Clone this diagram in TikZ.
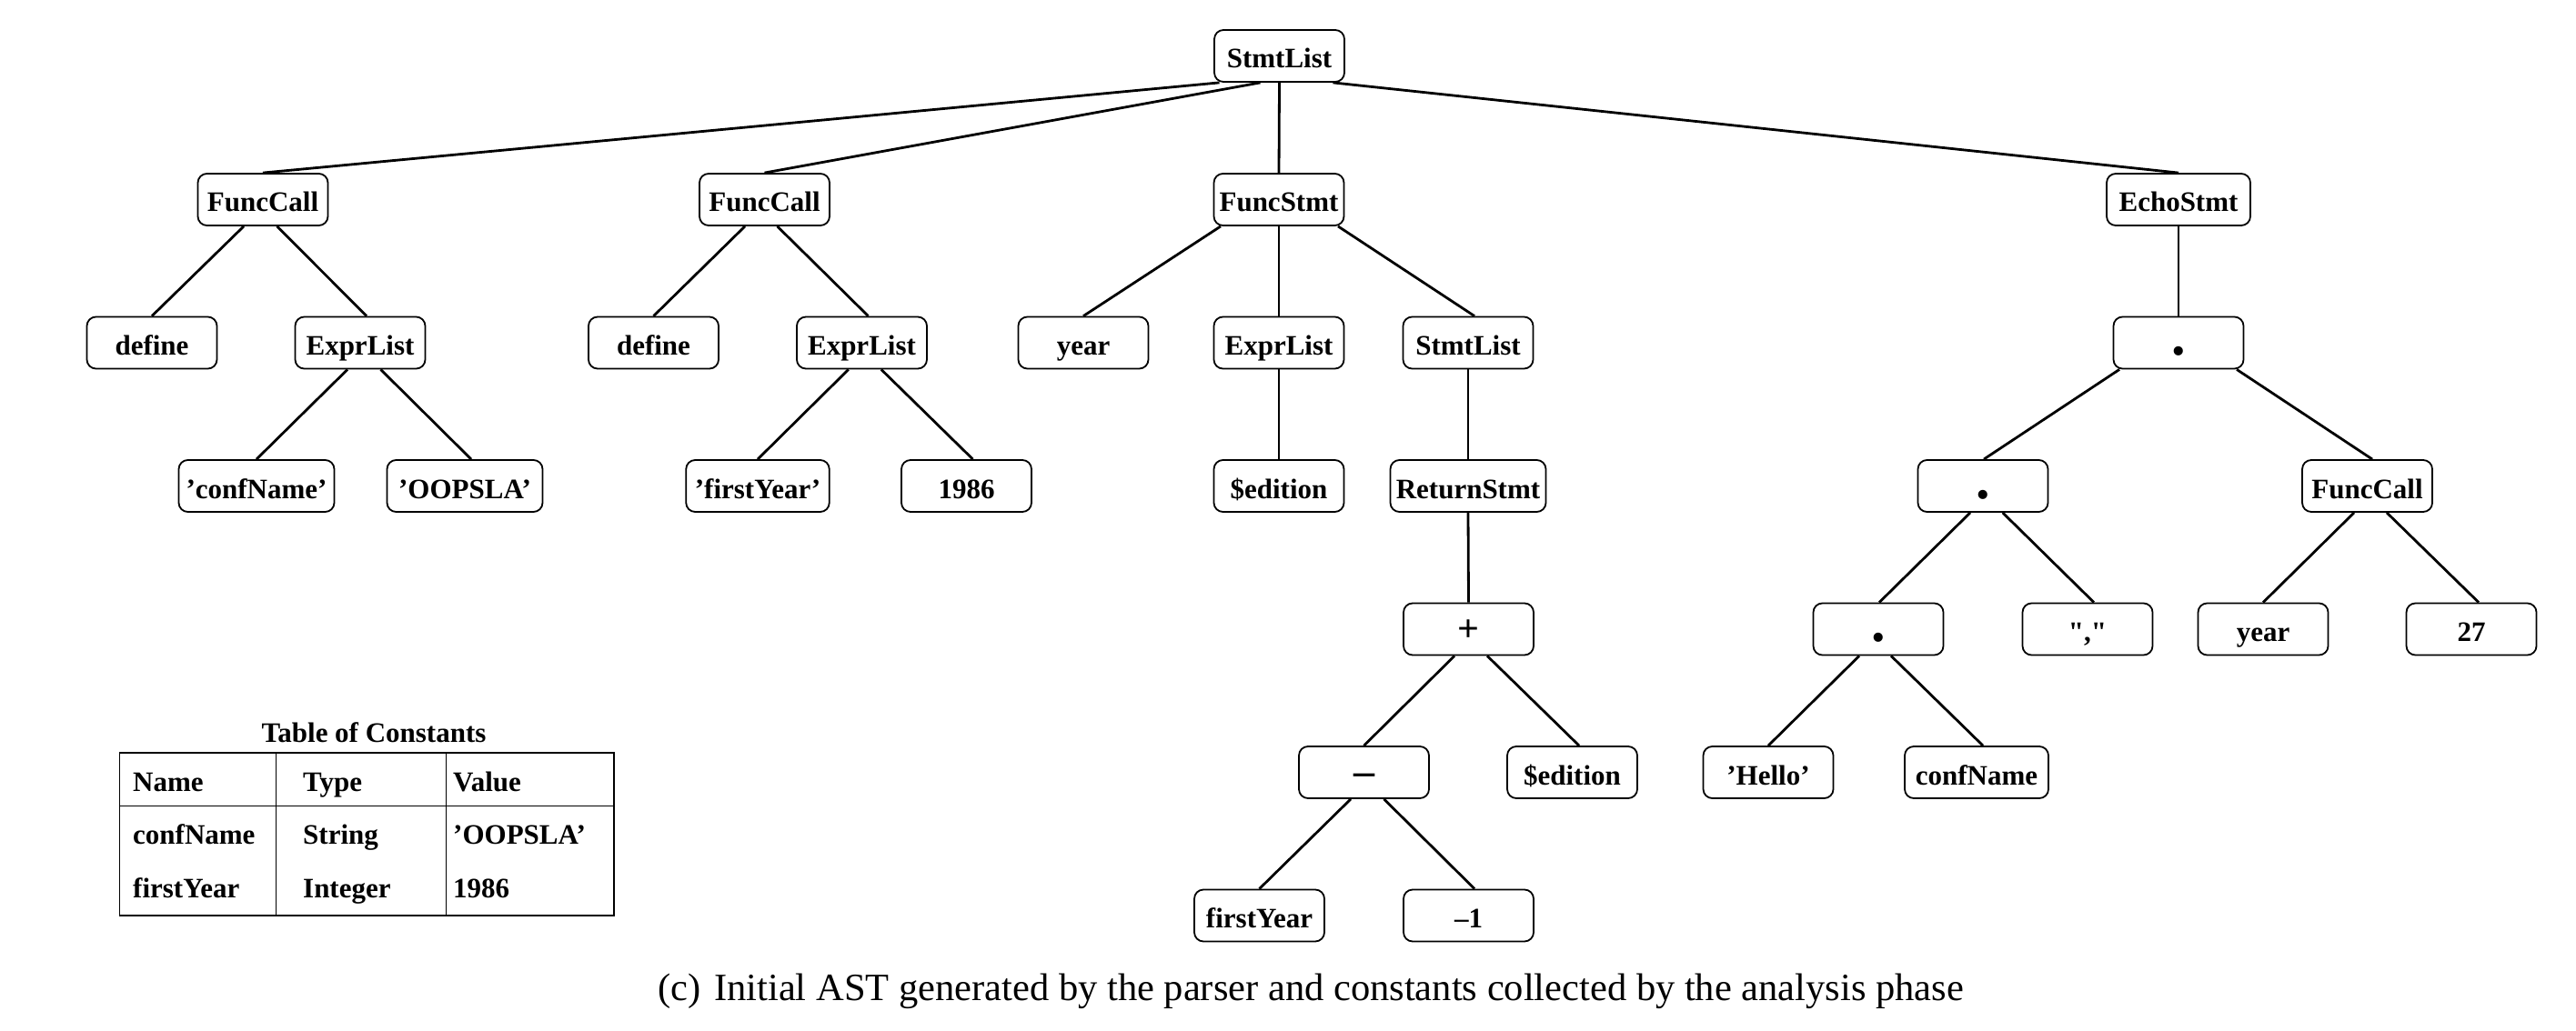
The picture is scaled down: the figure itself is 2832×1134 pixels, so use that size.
\documentclass[tikz,border=0pt]{standalone}
\usepackage{fontspec}
\setmainfont{Liberation Serif}
\newfontfamily\rawserif{Liberation Serif}[Ligatures=TeXOff]
\begin{document}
\begin{tikzpicture}[x=1pt,y=-1pt]
\tikzset{
  ast/.style={draw, rounded corners=10pt, line width=1.8pt, minimum width=143pt, minimum height=57pt,
    inner sep=0pt, text height=27pt, text depth=0pt, font=\bfseries\fontsize{31}{37}\selectfont},
  wide/.style={minimum width=#1},
  edge/.style={line width=2.8pt},
  tline/.style={line width=1.7pt},
  ttext/.style={anchor=base west, inner sep=0pt, font=\bfseries\fontsize{31}{37}\selectfont},
}
\useasboundingbox (0,0) rectangle (2832,1134);
% row 0
\node[ast] (root) at (1406.5,61.5) {StmtList};
% row 1
\node[ast] (fc1) at (289,219.5) {FuncCall};
\node[ast] (fc2) at (840.5,219.5) {FuncCall};
\node[ast] (fs) at (1406,219.5) {FuncStmt};
\node[ast,wide=158pt] (echo) at (2395,219.5) {EchoStmt};
% row 2
\node[ast] (def1) at (167,377) {define};
\node[ast] (el1) at (396,377) {ExprList};
\node[ast] (def2) at (718.5,377) {define};
\node[ast] (el2) at (947.5,377) {ExprList};
\node[ast] (year1) at (1191,377) {year};
\node[ast] (el3) at (1406,377) {ExprList};
\node[ast] (sl2) at (1614,377) {StmtList};
\node[ast] (dot1) at (2395,377) {\fontsize{62}{62}\selectfont .};
% row 3
\node[ast,wide=171pt] (cn) at (282,534.5) {'confName'};
\node[ast,wide=171pt] (oo) at (511,534.5) {'OOPSLA'};
\node[ast,wide=157.5pt] (fy) at (833,534.5) {'firstYear'};
\node[ast] (y86) at (1062.5,534.5) {1986};
\node[ast] (ed1) at (1406,534.5) {\$edition};
\node[ast,wide=171pt] (ret) at (1614,534.5) {ReturnStmt};
\node[ast] (dot2) at (2180,534.5) {\fontsize{62}{62}\selectfont .};
\node[ast] (fc3) at (2602.5,534.5) {FuncCall};
% row 4
\node[ast] (plus) at (1614.5,692) {\fontsize{42}{42}\selectfont +};
\node[ast] (dot3) at (2065,692) {\fontsize{62}{62}\selectfont .};
\node[ast] (comma) at (2295,692) {\rawserif\bfseries ","};
\node[ast] (year2) at (2488,692) {year};
\node[ast] (n27) at (2717,692) {27};
% row 5
\node[ast] (minus) at (1499.5,849.5) {\fontsize{46}{46}\selectfont –};
\node[ast] (ed2) at (1728.5,849.5) {\$edition};
\node[ast] (hello) at (1944,849.5) {'Hello'};
\node[ast,wide=158pt] (cn2) at (2173,849.5) {confName};
% row 6
\node[ast] (fy2) at (1384.5,1007) {firstYear};
\node[ast] (m1) at (1614.5,1007) {–1};
% edges
\draw[edge] ([xshift=-66pt]root.south) -- (fc1.north);
\draw[edge] ([xshift=-21pt]root.south) -- (fc2.north);
\draw[edge] (root.south) -- (fs.north);
\draw[edge] ([xshift=59pt]root.south) -- (echo.north);
\draw[edge] ([xshift=-21pt]fc1.south) -- (def1.north);
\draw[edge] ([xshift=15.5pt]fc1.south) -- ([xshift=7pt]el1.north);
\draw[edge] ([xshift=-14pt]el1.south) -- (cn.north);
\draw[edge] ([xshift=22.5pt]el1.south) -- ([xshift=7pt]oo.north);
\draw[edge] ([xshift=-21.5pt]fc2.south) -- (def2.north);
\draw[edge] ([xshift=14pt]fc2.south) -- ([xshift=7pt]el2.north);
\draw[edge] ([xshift=-14.7pt]el2.south) -- (fy.north);
\draw[edge] ([xshift=21.3pt]el2.south) -- ([xshift=7pt]y86.north);
\draw[edge] ([xshift=-64pt]fs.south) -- (year1.north);
\draw[edge] (fs.south) -- (el3.north);
\draw[edge] ([xshift=65pt]fs.south) -- ([xshift=7pt]sl2.north);
\draw[edge] (el3.south) -- (ed1.north);
\draw[edge] (sl2.south) -- (ret.north);
\draw[edge] (ret.south) -- (plus.north);
\draw[edge] ([xshift=-15.5pt]plus.south) -- (minus.north);
\draw[edge] ([xshift=20.5pt]plus.south) -- ([xshift=7.5pt]ed2.north);
\draw[edge] ([xshift=-14.5pt]minus.south) -- (fy2.north);
\draw[edge] ([xshift=22pt]minus.south) -- ([xshift=6.5pt]m1.north);
\draw[edge] (echo.south) -- (dot1.north);
\draw[edge] ([xshift=-65pt]dot1.south) -- ([xshift=1pt]dot2.north);
\draw[edge] ([xshift=64pt]dot1.south) -- ([xshift=5.5pt]fc3.north);
\draw[edge] ([xshift=-14pt]dot2.south) -- ([xshift=1pt]dot3.north);
\draw[edge] ([xshift=21.7pt]dot2.south) -- ([xshift=7pt]comma.north);
\draw[edge] ([xshift=-21pt]dot3.south) -- (hello.north);
\draw[edge] ([xshift=14pt]dot3.south) -- ([xshift=7pt]cn2.north);
\draw[edge] ([xshift=-14.5pt]fc3.south) -- (year2.north);
\draw[edge] ([xshift=21.5pt]fc3.south) -- ([xshift=8pt]n27.north);
% table
\node[anchor=base, inner sep=0pt, font=\bfseries\fontsize{31}{37}\selectfont] (ttitle) at (411,816) {Table of Constants};
\draw[tline] (131.4,828) rectangle (675,1006.7);
\draw[tline] (303.6,828) -- (303.6,1006.7);
\draw[tline] (490.4,828) -- (490.4,1006.7);
\draw[tline] (131.4,886.5) -- (675,886.5);
\node[ttext] (h1) at (146,870) {Name};
\node[ttext] (h2) at (333,870) {Type};
\node[ttext] (h3) at (498,870) {Value};
\node[ttext] (a1) at (146,928) {confName};
\node[ttext] (a2) at (333,928) {String};
\node[ttext] (a3) at (498,928) {'OOPSLA'};
\node[ttext] (b1) at (146,987) {firstYear};
\node[ttext] (b2) at (333,987) {Integer};
\node[ttext] (b3) at (498,987) {1986};
% caption
\node[anchor=base, inner sep=0pt, font=\fontsize{42.5}{50}\selectfont] (cap) at (1441,1100) {(c)\hspace{0.35em}Initial AST generated by the parser and constants collected by the analysis phase};
\end{tikzpicture}
\end{document}
